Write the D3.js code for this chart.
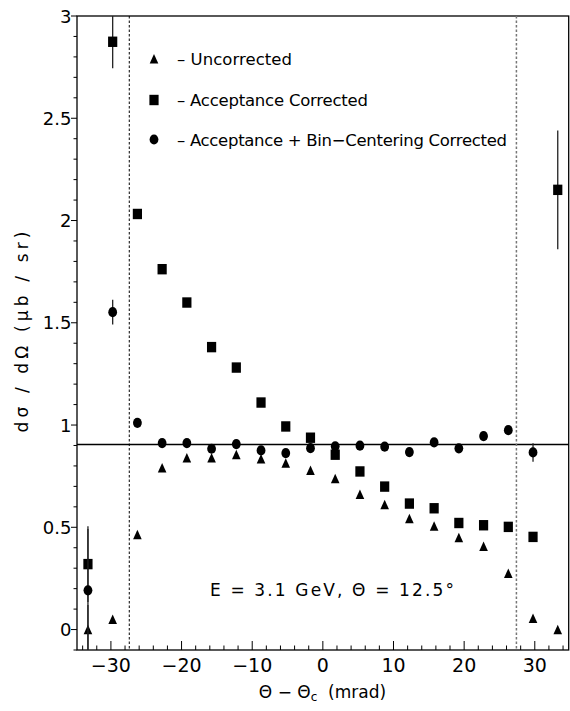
<html>
<head>
<style>
body {
  margin: 0;
  background: white;
}
svg {
  display: block;
}
text {
  font-family: "DejaVu Sans";
  fill: black;
}
</style>
</head>
<body>
<script type="text/javascript" src="https://cdnjs.cloudflare.com/ajax/libs/d3/7.8.5/d3.min.js"></script>
<script type="text/javascript">
// bin centres, mrad
var thetas = [-33.25, -29.75, -26.25, -22.75, -19.25, -15.75, -12.25, -8.75, -5.25, -1.75,
              1.75, 5.25, 8.75, 12.25, 15.75, 19.25, 22.75, 26.25, 29.75, 33.25]

var uncorrected = [0.0, 0.05, 0.464, 0.791, 0.839, 0.839, 0.855, 0.834, 0.814, 0.778,
                   0.738, 0.661, 0.611, 0.542, 0.506, 0.449, 0.407, 0.274, 0.054, 0.0]
var uncorrectedErr = [0.12, 0, 0, 0, 0, 0, 0, 0, 0, 0,
                      0, 0, 0, 0, 0, 0, 0, 0, 0, 0]

var acceptance = [0.32, 2.874, 2.032, 1.762, 1.599, 1.381, 1.281, 1.110, 0.993, 0.938,
                  0.855, 0.773, 0.699, 0.616, 0.593, 0.521, 0.510, 0.502, 0.453, 2.150]
var acceptanceErr = [0.185, 0.13, 0, 0, 0, 0, 0, 0, 0, 0,
                     0, 0, 0, 0, 0, 0, 0, 0, 0, 0.29]

var binCentered = [0.192, 1.552, 1.011, 0.912, 0.912, 0.884, 0.907, 0.876, 0.863, 0.887,
                   0.896, 0.899, 0.894, 0.868, 0.915, 0.886, 0.946, 0.975, 0.866, null]
var binCenteredErr = [0.3, 0.06, 0, 0, 0, 0, 0, 0, 0, 0,
                      0, 0, 0, 0, 0, 0, 0, 0, 0.045, null]

var xTicks = [-30, -20, -10, 0, 10, 20, 30]
var yTicks = [0, 0.5, 1, 1.5, 2, 2.5, 3]
var acceptanceEdges = [-27.4, 27.4]
var average = 0.905

var legendLabels = ['\u2013 Uncorrected', '\u2013 Acceptance Corrected', '\u2013 Acceptance + Bin\u2212Centering Corrected']

var width = 570,
    height = 711,
    plotLeft = 77,
    plotRight = 568.7,
    plotTop = 16,
    plotBottom = 650;

var svg = d3.select("body")
  .append("svg")
  .attr("width", width)
  .attr("height", height)

var x = d3.scaleLinear().domain([-34.8, 34.8]).range([plotLeft, plotRight])
var y = d3.scaleLinear().domain([-0.1, 3]).range([plotBottom, plotTop])

svg.append("clipPath").attr("id", "plot")
  .append("rect")
  .attr("x", plotLeft).attr("y", plotTop)
  .attr("width", plotRight - plotLeft).attr("height", plotBottom - plotTop)

// frame
svg.append("rect")
  .attr("x", plotLeft).attr("y", plotTop)
  .attr("width", plotRight - plotLeft).attr("height", plotBottom - plotTop)
  .attr("fill", "none")
  .attr("stroke", "black")
  .attr("stroke-width", 1.3)

// x ticks (inside), minor every 2
var xMinor = d3.range(-34, 35, 2)
svg.append("g").selectAll("line")
  .data(xMinor)
  .enter().append("line")
  .attr("x1", function(d) { return x(d) })
  .attr("x2", function(d) { return x(d) })
  .attr("y1", plotBottom)
  .attr("y2", function(d) { return d % 10 === 0 ? plotBottom - 9 : plotBottom - 4.5 })
  .attr("stroke", "black")
  .attr("stroke-width", 1)

svg.append("g").selectAll("text")
  .data(xTicks)
  .enter().append("text")
  .attr("x", function(d) { return x(d) })
  .attr("y", 672)
  .attr("text-anchor", "middle")
  .style("font-size", "19px")
  .text(function(d) { return d < 0 ? "\u2212" + Math.abs(d) : d })

// y ticks (outside), minor every 0.1
var yMinor = d3.range(-1, 31).map(function(i) { return i / 10 })
svg.append("g").selectAll("line")
  .data(yMinor)
  .enter().append("line")
  .attr("x1", plotLeft)
  .attr("x2", function(d, i) { return (i - 1) % 5 === 0 ? plotLeft - 6 : plotLeft - 3.5 })
  .attr("y1", function(d) { return y(d) })
  .attr("y2", function(d) { return y(d) })
  .attr("stroke", "black")
  .attr("stroke-width", 1)

svg.append("g").selectAll("text")
  .data(yTicks)
  .enter().append("text")
  .attr("x", 71.5)
  .attr("y", function(d) { return y(d) + 6.5 })
  .attr("text-anchor", "end")
  .style("font-size", "18px")
  .text(function(d) { return d })

// axis titles
var xTitle = svg.append("text")
  .attr("x", 322.5)
  .attr("y", 698)
  .attr("text-anchor", "middle")
  .style("font-size", "17px")
xTitle.append("tspan").text("\u0398 \u2212 \u0398")
xTitle.append("tspan").attr("dy", 3).style("font-size", "12px").text("c")
xTitle.append("tspan").attr("dy", -3).text("\u00a0 (mrad)")

svg.append("text")
  .attr("transform", "translate(28 332) rotate(-90)")
  .attr("text-anchor", "middle")
  .attr("textLength", 201)
  .attr("lengthAdjust", "spacing")
  .style("font-size", "17px")
  .text("d\u03c3 / d\u03a9  (\u03bcb / sr)")

// reference lines
svg.append("line")
  .attr("x1", plotLeft).attr("x2", plotRight)
  .attr("y1", y(average)).attr("y2", y(average))
  .attr("stroke", "black")
  .attr("stroke-width", 1.4)

svg.append("g").selectAll("line")
  .data(acceptanceEdges)
  .enter().append("line")
  .attr("x1", function(d) { return x(d) })
  .attr("x2", function(d) { return x(d) })
  .attr("y1", plotTop).attr("y2", plotBottom)
  .attr("stroke", function(d, i) { return i === 0 ? "black" : "#777" })
  .attr("stroke-width", function(d, i) { return i === 0 ? 1 : 1.5 })
  .attr("stroke-dasharray", "2.5,2")

// data
function rows(values, errs) {
  return thetas.map(function(t, i) {
    return { x: t, y: values[i], err: errs[i] }
  }).filter(function(d) { return d.y !== null })
}

var series = [
  { rows: rows(uncorrected, uncorrectedErr), shape: "triangle" },
  { rows: rows(acceptance, acceptanceErr), shape: "square" },
  { rows: rows(binCentered, binCenteredErr), shape: "circle" }
]

var plot = svg.append("g").attr("clip-path", "url(#plot)")

function drawMarker(g, shape) {
  if (shape === "triangle") {
    g.append("path").attr("d", "M0,-4.9L4.3,4.6L-4.3,4.6Z")
  } else if (shape === "square") {
    g.append("rect").attr("x", -4.6).attr("y", -5.2).attr("width", 9.2).attr("height", 10.4)
  } else {
    g.append("ellipse").attr("rx", 4.4).attr("ry", 5.1)
  }
}

series.forEach(function(s) {
  plot.append("g").selectAll("line")
    .data(s.rows.filter(function(d) { return d.err > 0 }))
    .enter().append("line")
    .attr("x1", function(d) { return x(d.x) })
    .attr("x2", function(d) { return x(d.x) })
    .attr("y1", function(d) { return y(d.y - d.err) })
    .attr("y2", function(d) { return y(d.y + d.err) })
    .attr("stroke", "#222")
    .attr("stroke-width", 1.3)

  plot.append("g").selectAll("g")
    .data(s.rows)
    .enter().append("g")
    .attr("transform", function(d) { return "translate(" + x(d.x) + " " + y(d.y) + ")" })
    .each(function() { drawMarker(d3.select(this), s.shape) })
})

// legend
var legendY = [59, 100, 139.5]
var legendLengths = [115, 191, 330]
legendLabels.forEach(function(label, i) {
  var g = svg.append("g").attr("transform", "translate(154 " + legendY[i] + ")")
  drawMarker(g, series[i].shape)
  svg.append("text")
    .attr("x", 177)
    .attr("y", legendY[i] + 6)
    .attr("textLength", legendLengths[i])
    .attr("lengthAdjust", "spacing")
    .style("font-size", "16.5px")
    .text(label)
})

// run label
svg.append("text")
  .attr("x", 210)
  .attr("y", 596)
  .attr("textLength", 244)
  .attr("lengthAdjust", "spacing")
  .style("font-size", "17px")
  .text("E = 3.1 GeV, \u0398 = 12.5\u00b0")
</script>
</body>
</html>
